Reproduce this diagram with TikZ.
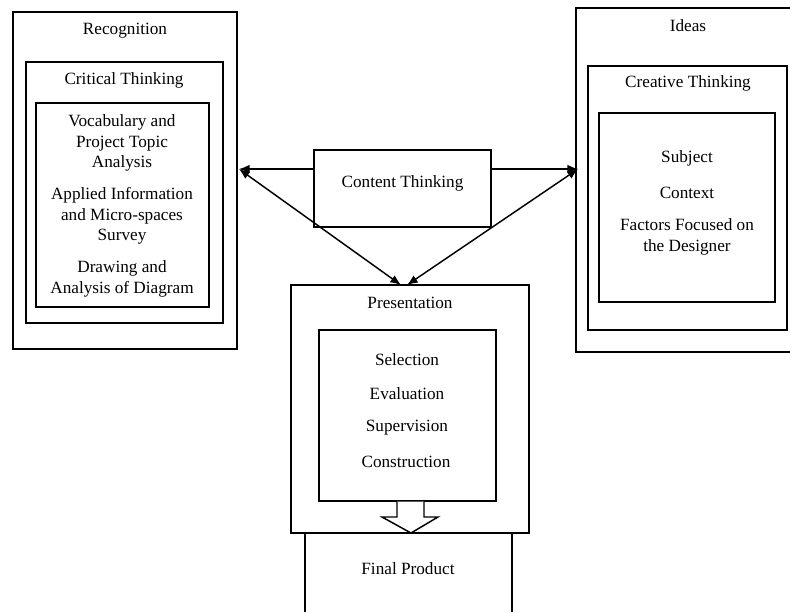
\documentclass[tikz,border=0pt]{standalone}
\usepackage{fontspec}
\setmainfont{Liberation Serif}
\usetikzlibrary{arrows.meta, fit}
\tikzset{
  box/.style = {draw, line width=1.1pt, inner sep=0pt},
  txt/.style = {align=center, font=\fontsize{12.9}{15.4}\selectfont, inner sep=1pt},
  arr/.style = {line width=1.1pt, -{Latex[length=8pt, width=6.5pt]}},
  darr/.style = {line width=1.1pt, {Latex[length=8pt, width=6.5pt]}-{Latex[length=8pt, width=6.5pt]}}
}
\begin{document}
\begin{tikzpicture}[x=0.75pt, y=-0.75pt]
    \useasboundingbox (0,0) rectangle (790,612);
    % Recognition
    \node[box, fit={(13,12) (237,349)}] (recog) {};
    \node[box, fit={(26,62) (223,323)}] (critic) {};
    \node[box, fit={(36,103) (209,307)}] (criticin) {};
    \node[txt] (recogt) at (125,31) {Recognition};
    \node[txt] (critict) at (124,80) {Critical Thinking};
    \node[txt] (vocab) at (122,143) {Vocabulary and\\Project Topic\\Analysis};
    \node[txt] (survey) at (122,216) {Applied Information\\and Micro-spaces\\Survey};
    \node[txt] (diagram) at (122,279) {Drawing and\\Analysis of Diagram};
    % Ideas
    \draw[line width=1.1pt] (790,8) -- (576,8) -- (576,352) -- (790,352);
    \node[box, fit={(588,66) (787,330)}] (creat) {};
    \node[box, fit={(599,113) (775,302)}] (creatin) {};
    \node[txt] (ideast) at (688,26) {Ideas};
    \node[txt] (creatt) at (688,83) {Creative Thinking};
    \node[txt] (subject) at (687,158) {Subject};
    \node[txt] (context) at (687,193) {Context};
    \node[txt] (factors) at (687,237) {Factors Focused on\\the Designer};
    % Content Thinking
    \node[box, fit={(314,150) (491,227)}] (content) {};
    \node[txt] (contentt) at (402.5,183) {Content Thinking};
    % Presentation
    \node[box, fit={(291,285) (529,533)}] (present) {};
    \node[box, fit={(319,330) (496,501)}] (presentin) {};
    \node[txt] (presentt) at (410,303) {Presentation};
    \node[txt] (select) at (407,360) {Selection};
    \node[txt] (eval) at (407,394) {Evaluation};
    \node[txt] (superv) at (407,428) {Supervision};
    \node[txt] (constr) at (406,462) {Construction};
    % Final Product
    \draw[line width=1.1pt] (305,612) -- (present.south -| 305,0) (present.south -| 512,0) -- (512,612);
    \node[txt] (final) at (408,569) {Final Product};
    % Frecce
    \coordinate (lhit) at (239,169);
    \coordinate (rhit) at (578,169);
    \coordinate (pleft) at (401,285);
    \coordinate (pright) at (407,285);
    \draw[arr] (content.west |- lhit) -- (lhit);
    \draw[arr] (content.east |- rhit) -- (rhit);
    \draw[darr] (lhit) -- (pleft);
    \draw[darr] (rhit) -- (pright);
    \draw[line width=1.1pt, fill=white] (presentin.south -| 397,0) -- (397,517) -- (382,517) -- (411,533) -- (438,517) -- (424,517) -- (presentin.south -| 424,0);
\end{tikzpicture}
\end{document}
